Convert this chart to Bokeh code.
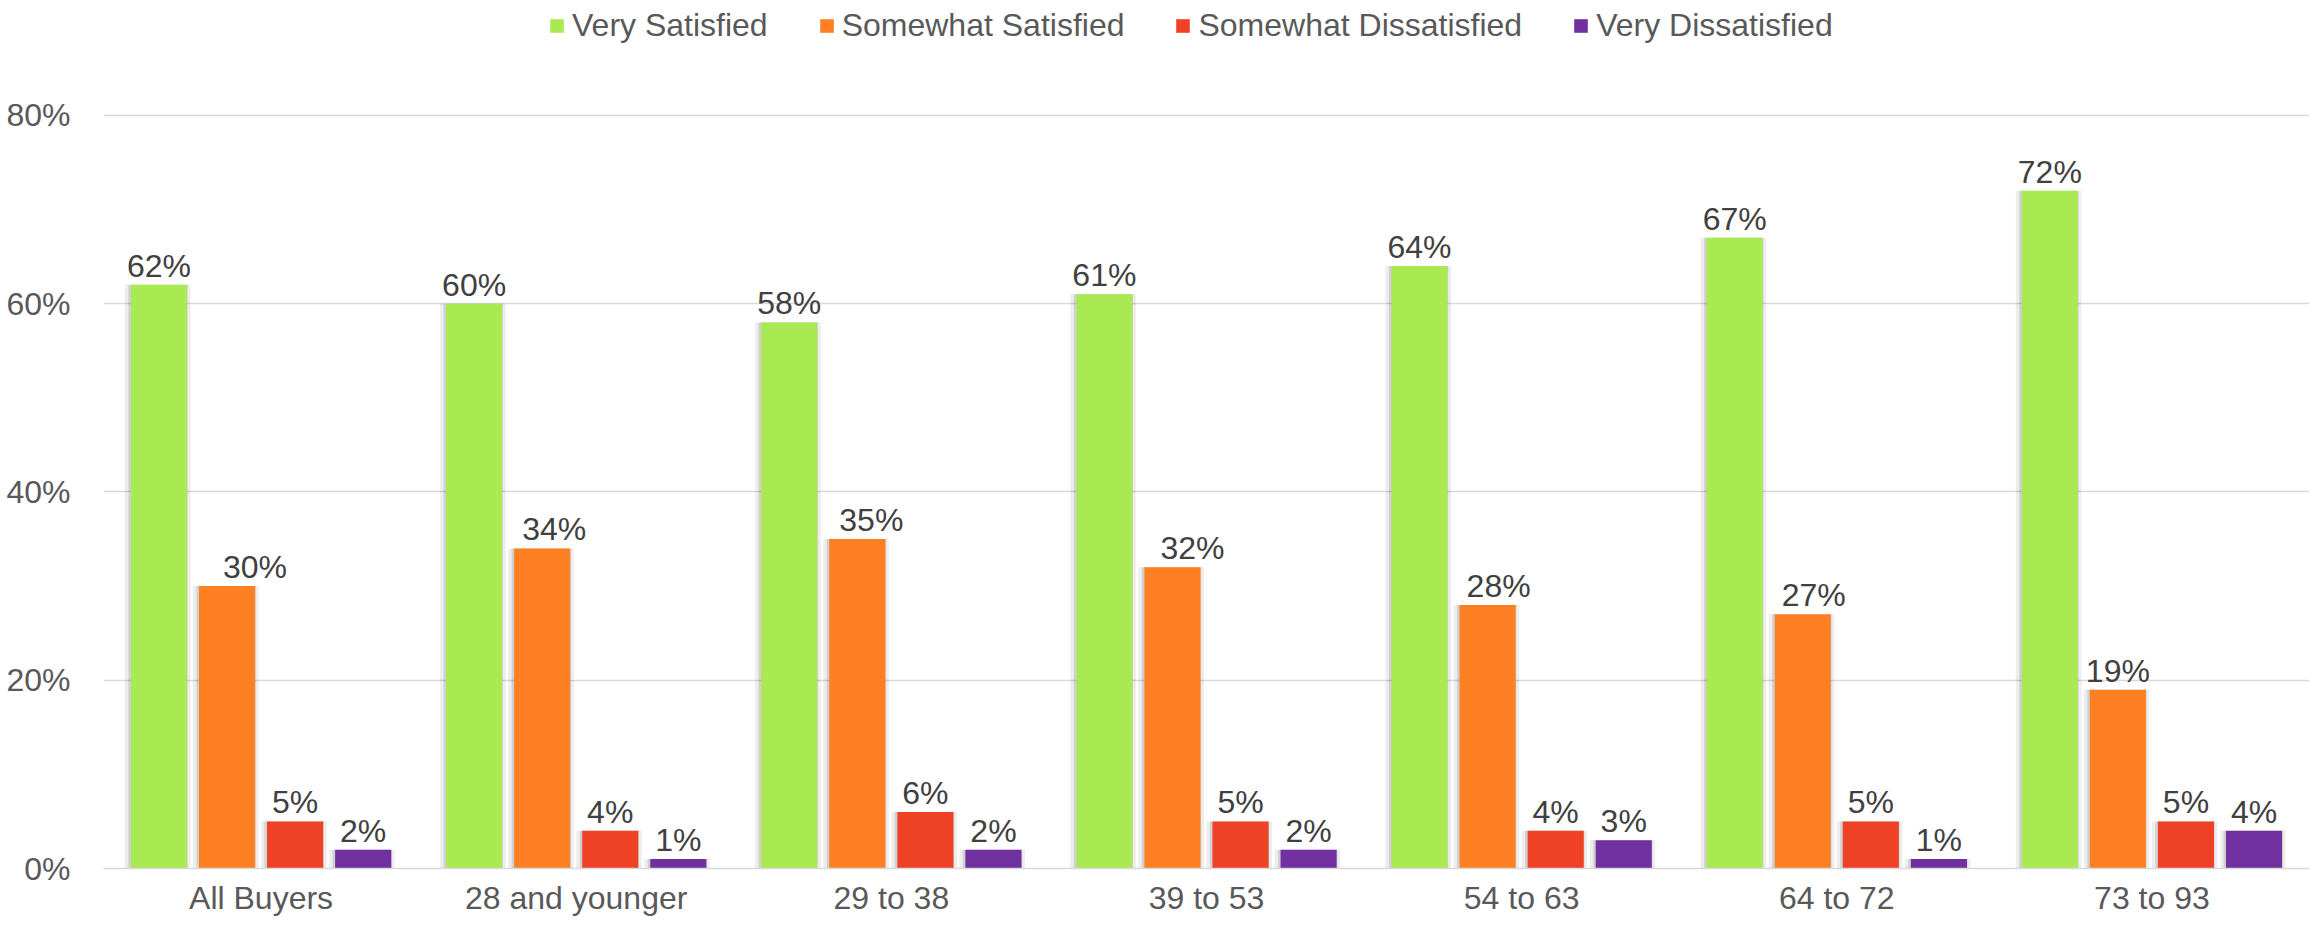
from bokeh.plotting import figure
from bokeh.models import ColumnDataSource, Range1d, Legend, LegendItem, PrintfTickFormatter, FixedTicker
from bokeh.transform import dodge
from bokeh.core.properties import value
from bokeh.embed import file_html
from bokeh.resources import INLINE

categories = ["All Buyers", "28 and younger", "29 to 38", "39 to 53", "54 to 63", "64 to 72", "73 to 93"]
series_names = ["Very Satisfied", "Somewhat Satisfied", "Somewhat Dissatisfied", "Very Dissatisfied"]
very_satisfied = [62, 60, 58, 61, 64, 67, 72]
somewhat_satisfied = [30, 34, 35, 32, 28, 27, 19]
somewhat_dissatisfied = [5, 4, 6, 5, 4, 5, 5]
very_dissatisfied = [2, 1, 2, 2, 3, 1, 4]
y_ticks = [0, 20, 40, 60, 80]

series_values = [very_satisfied, somewhat_satisfied, somewhat_dissatisfied, very_dissatisfied]
colors = ["#A9EA52", "#FE8022", "#EF4125", "#7030A0"]
offsets = [-0.324, -0.108, 0.108, 0.324]
bar_w = 0.178
# screen-pixel nudges of data labels (as placed in the reference)
label_dx = [[0] * 7, [28, 12, 14, 20, 11, 11, 0], [0] * 7, [0] * 7]

FONT = "Liberation Sans"
FS = "32px"

# frame spans the full height above the axis; headroom above 80% holds the legend
p = figure(x_range=categories, y_range=Range1d(0, 92.2), width=2318, height=926,
           output_backend="svg", toolbar_location=None,
           min_border_left=103, min_border_right=9, min_border_top=0, min_border_bottom=58)

p.outline_line_color = None
p.background_fill_color = "white"
p.xgrid.grid_line_color = None
p.ygrid.grid_line_color = "#D9D9D9"
p.ygrid.grid_line_width = 1.5
p.yaxis.ticker = FixedTicker(ticks=y_ticks)
p.yaxis.formatter = PrintfTickFormatter(format="%d%%")
p.yaxis.axis_line_color = None
p.yaxis.major_tick_line_color = None
p.yaxis.minor_tick_line_color = None
p.yaxis.major_label_standoff = 27
p.xaxis.axis_line_color = "#D9D9D9"
p.xaxis.axis_line_width = 1.5
p.xaxis.major_tick_line_color = None
p.xaxis.minor_tick_line_color = None
p.xaxis.major_tick_out = 0
p.xaxis.major_label_standoff = 11
for ax in (p.xaxis, p.yaxis):
    ax.major_label_text_font = FONT
    ax.major_label_text_font_size = FS
    ax.major_label_text_color = "#595959"

items = []
for name, vals, col, off, dx in zip(series_names, series_values, colors, offsets, label_dx):
    src = ColumnDataSource(dict(cat=categories, val=vals,
                                lab=[f"{v}%" for v in vals], dx=dx))
    # soft shadow
    p.vbar(x=dodge("cat", off - 0.004, range=p.x_range), top="val", width=bar_w + 0.03,
           source=src, fill_color="#000000", fill_alpha=0.07, line_color=None)
    p.vbar(x=dodge("cat", off - 0.003, range=p.x_range), top="val", width=bar_w + 0.01,
           source=src, fill_color="#000000", fill_alpha=0.12, line_color=None)
    r = p.vbar(x=dodge("cat", off, range=p.x_range), top="val", width=bar_w,
               source=src, fill_color=col, line_color=None)
    p.text(x=dodge("cat", off, range=p.x_range), y="val", text="lab", source=src,
           x_offset="dx", y_offset=-19, text_font=value(FONT), text_font_size=FS,
           text_color="#404040", text_align="center", text_baseline="alphabetic")
    items.append(LegendItem(label=name, renderers=[r]))

legend = Legend(items=items, location=(445, 824), orientation="horizontal",
                label_text_font=FONT, label_text_font_size=FS, label_text_color="#595959",
                glyph_width=17, glyph_height=17, spacing=50, label_standoff=7,
                padding=0, margin=0, border_line_color=None, background_fill_alpha=0)
p.add_layout(legend)

open("out.html", "w").write(file_html(p, INLINE))
